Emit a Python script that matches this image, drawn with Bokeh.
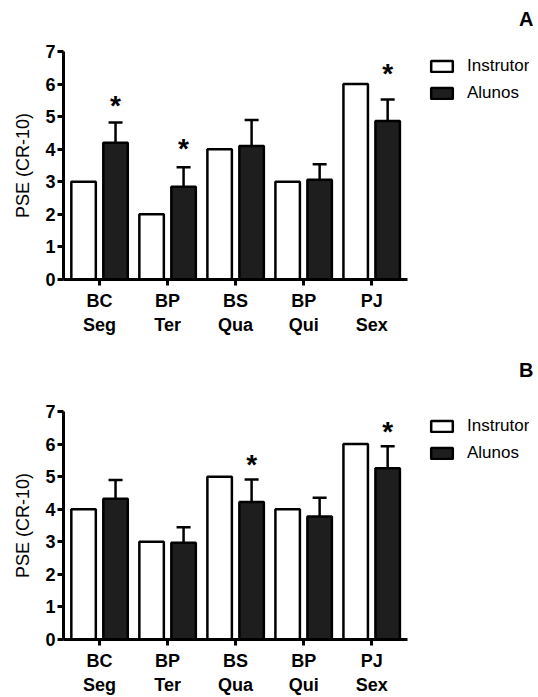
from bokeh.plotting import figure
from bokeh.models import (Range1d, FixedTicker, Legend, LegendItem, Title,
                          Whisker, TeeHead, ColumnDataSource)
from bokeh.layouts import column
from bokeh.transform import dodge
from bokeh.core.properties import value
from bokeh.embed import file_html
from bokeh.resources import INLINE

# ---- data ----
exercises = ["BC", "BP", "BS", "BP", "PJ"]
days = ["Seg", "Ter", "Qua", "Qui", "Sex"]

instrutor_a = [3, 2, 4, 3, 6]
alunos_a = [4.2, 2.85, 4.1, 3.06, 4.87]
alunos_err_a = [0.62, 0.6, 0.8, 0.48, 0.66]
star_y_a = [5.4, 4.08, None, None, 6.39]   # height of the significance mark

instrutor_b = [4, 3, 5, 4, 6]
alunos_b = [4.32, 2.97, 4.22, 3.78, 5.26]
alunos_err_b = [0.58, 0.48, 0.69, 0.57, 0.67]
star_y_b = [None, None, 5.43, None, 6.45]

FONT = "Liberation Sans"
DARK = "#1e1e1e"


def make_panel(instr, alun, err, star_y, letter, top_border, bottom_border, gap_font):
    p = figure(frame_width=466, frame_height=228,
               x_range=Range1d(-0.53, 6.32), y_range=Range1d(0, 7),
               output_backend="svg", toolbar_location=None,
               min_border_left=63, min_border_right=5,
               min_border_top=top_border, min_border_bottom=bottom_border)
    p.xgrid.visible = False
    p.ygrid.visible = False
    p.outline_line_color = None
    p.background_fill_color = "white"
    p.border_fill_color = "white"

    # panel letter (outermost) and a blank spacer title next to the frame
    p.title.text = letter
    p.title.align = "right"
    p.title.offset = -4
    p.title.text_font = FONT
    p.title.text_font_style = "bold"
    p.title.text_font_size = "20px"
    p.title.text_color = "black"
    p.add_layout(Title(text=" ", text_font_size=gap_font), "above")

    idx = list(range(len(instr)))
    src = ColumnDataSource(dict(
        x=idx, instr=instr, alun=alun,
        upper=[a + e for a, e in zip(alun, err)],
    ))

    r1 = p.vbar(x=dodge("x", -0.235, range=p.x_range), top="instr", width=0.36,
                source=src, fill_color="white", line_color="black", line_width=2.5)
    r2 = p.vbar(x=dodge("x", 0.235, range=p.x_range), top="alun", width=0.36,
                source=src, fill_color=DARK, line_color="black", line_width=2.5)

    wh = Whisker(source=src, base=dodge("x", 0.235, range=p.x_range),
                 upper="upper", lower="alun", dimension="height",
                 line_color="black", line_width=2.5,
                 upper_head=TeeHead(size=14, line_width=2.5, line_color="black"),
                 lower_head=None)
    p.add_layout(wh)

    sx = [i for i, s in zip(idx, star_y) if s is not None]
    sy = [s for s in star_y if s is not None]
    star_src = ColumnDataSource(dict(x=sx, y=sy, t=["*"] * len(sx)))
    p.text(x=dodge("x", 0.235, range=p.x_range), y="y", text="t", source=star_src,
           text_align="center", text_baseline="alphabetic", y_offset=2,
           text_font=value(FONT), text_font_style="bold", text_font_size="28px",
           text_color="black")

    # axes
    for ax in (p.xaxis[0], p.yaxis[0]):
        ax.axis_line_width = 3
        ax.axis_line_color = "black"
        ax.major_tick_line_width = 3
        ax.major_tick_line_color = "black"
        ax.major_tick_out = 6
        ax.major_tick_in = 0
        ax.minor_tick_line_color = None
        ax.major_label_text_font = FONT
        ax.major_label_text_font_style = "bold"
        ax.major_label_text_font_size = "18px"
        ax.major_label_text_color = "black"

    xa = p.xaxis[0]
    xa.bounds = (-0.53, 4.53)
    xa.ticker = FixedTicker(ticks=idx)
    xa.major_label_overrides = {i: f"{e}\n{d}" for i, e, d in zip(idx, exercises, days)}
    xa.major_label_standoff = 5

    ya = p.yaxis[0]
    ya.ticker = FixedTicker(ticks=list(range(0, 8)))
    ya.major_label_standoff = 2
    ya.axis_label = "PSE (CR-10)"
    ya.axis_label_text_font = FONT
    ya.axis_label_text_font_style = "normal"
    ya.axis_label_text_font_size = "18px"
    ya.axis_label_text_color = "black"
    ya.axis_label_standoff = 9

    leg = Legend(items=[LegendItem(label="Instrutor", renderers=[r1]),
                        LegendItem(label="Alunos", renderers=[r2])],
                 location=(365, 176), orientation="vertical",
                 glyph_width=27, glyph_height=14, label_height=20, spacing=7,
                 padding=0, margin=0, border_line_color=None,
                 background_fill_alpha=0, label_standoff=12,
                 label_text_font=FONT, label_text_font_size="17px",
                 label_text_color="black")
    p.add_layout(leg)
    return p


pa = make_panel(instrutor_a, alunos_a, alunos_err_a, star_y_a, "A", 50, 58, "4px")
pb = make_panel(instrutor_b, alunos_b, alunos_err_b, star_y_b, "B", 74, 58, "12px")

layout = column(pa, pb, spacing=0)
open("out.html", "w").write(file_html(layout, INLINE))
